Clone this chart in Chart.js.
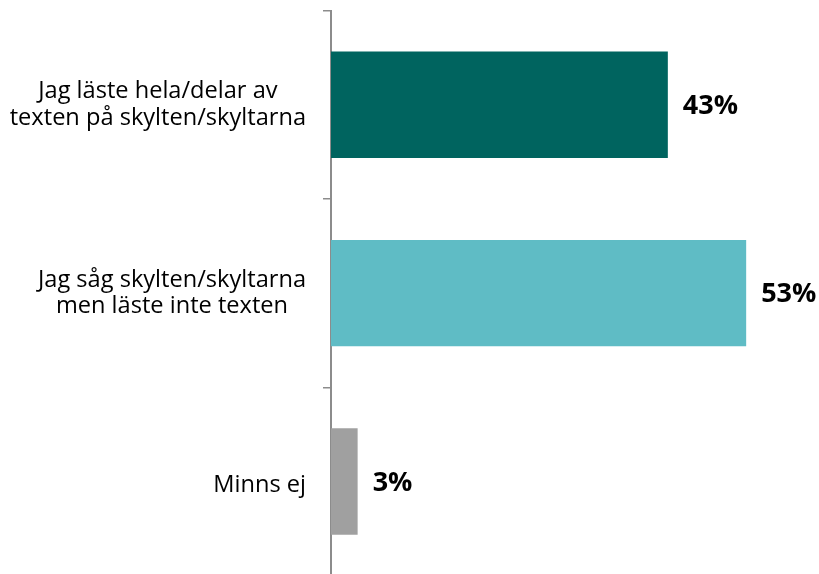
<!DOCTYPE html>
<html>
<head>
<meta charset="utf-8">
<script src="https://cdn.jsdelivr.net/npm/chart.js@4.4.1/dist/chart.umd.min.js"></script>
<style>
  html, body { margin: 0; padding: 0; background: #ffffff; overflow: hidden; }
  #wrap { position: relative; width: 819px; height: 580px; }
</style>
</head>
<body>
<div id="wrap"><canvas id="c"></canvas></div>
<script>
const categories = [
  ["Jag läste hela/delar av", "texten på skylten/skyltarna"],
  ["Jag såg skylten/skyltarna", "men läste inte texten"],
  ["Minns ej"]
];
const values = [43, 53, 3.4];
const barColors = ["#00645F", "#5FBCC5", "#A0A0A0"];

const LABEL_FONT = "23.6px 'Open Sans'";
const VALUE_FONT = "bold 27px 'Open Sans'";

const categoryLabels = {
  id: 'categoryLabels',
  afterDraw(chart) {
    const ctx = chart.ctx;
    const yScale = chart.scales.y;
    ctx.save();
    ctx.font = LABEL_FONT;
    ctx.fillStyle = '#000000';
    ctx.textAlign = 'center';
    ctx.textBaseline = 'middle';
    const right = 306;
    const lineH = 26.5;
    categories.forEach((lines, i) => {
      const cy = yScale.getPixelForValue(i) + (lines.length === 1 ? 4 : 0);
      const maxW = Math.max(...lines.map(l => ctx.measureText(l).width));
      const cx = right - maxW / 2;
      const start = cy - (lines.length - 1) * lineH / 2;
      lines.forEach((l, k) => ctx.fillText(l, cx, start + k * lineH));
    });
    ctx.restore();
  }
};

const valueLabels = {
  id: 'valueLabels',
  afterDatasetsDraw(chart) {
    const ctx = chart.ctx;
    const meta = chart.getDatasetMeta(0);
    ctx.save();
    ctx.font = VALUE_FONT;
    ctx.fillStyle = '#000000';
    ctx.textAlign = 'left';
    ctx.textBaseline = 'middle';
    meta.data.forEach((bar, i) => {
      ctx.fillText(Math.round(values[i]) + '%', bar.x + 15, bar.y + 1.5);
    });
    ctx.restore();
  }
};

new Chart(document.getElementById('c'), {
  type: 'bar',
  data: {
    labels: categories,
    datasets: [{
      data: values,
      backgroundColor: barColors,
      borderWidth: 0,
      categoryPercentage: 1,
      barPercentage: 0.565
    }]
  },
  options: {
    indexAxis: 'y',
    responsive: true,
    maintainAspectRatio: false,
    animation: false,
    events: [],
    layout: { padding: { top: 10.5, right: 18, bottom: 4.3, left: 0 } },
    plugins: { legend: { display: false }, tooltip: { enabled: false } },
    scales: {
      x: { display: false, min: 0, max: 60 },
      y: {
        position: 'left',
        offset: true,
        afterFit(scale) { scale.width = 331; },
        ticks: { display: false },
        grid: {
          offset: true,
          drawOnChartArea: false,
          drawTicks: true,
          tickLength: 8,
          color: '#8C8C8C',
          lineWidth: 1.5
        },
        border: { display: true, color: '#8C8C8C', width: 2 }
      }
    }
  },
  plugins: [categoryLabels, valueLabels]
});
</script>
</body>
</html>
